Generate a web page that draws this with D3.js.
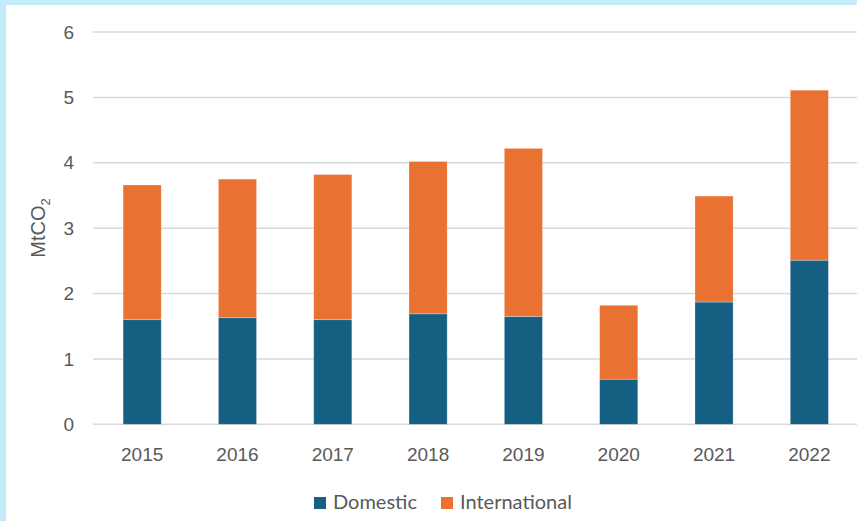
<html>
  <head>
    <style>
      body { margin: 0; background: #c4ebfa; }
      svg { display: block; }
      .tick text { fill: #595959; font-family: "Liberation Sans", Arial, sans-serif; }
    </style>
  </head>
  <body>
    <script src="https://d3js.org/d3.v7.min.js"></script>
    <script>
    var width = 857, height = 521;

    // values (MtCO2)
    var years = ["2015", "2016", "2017", "2018", "2019", "2020", "2021", "2022"];
    var domestic = [1.60, 1.63, 1.60, 1.69, 1.65, 0.69, 1.87, 2.51];
    var international = [2.06, 2.12, 2.22, 2.33, 2.57, 1.13, 1.62, 2.60];
    var yTicks = [0, 1, 2, 3, 4, 5, 6];
    var seriesNames = ["Domestic", "International"];
    var colors = ["#156082", "#e97132"];

    var rows = years.map(function(y, i) {
      return { year: y, Domestic: domestic[i], International: international[i] };
    });

    var svg = d3.select("body").append("svg")
        .attr("width", width)
        .attr("height", height);

    // white chart area inside the blue frame
    svg.append("rect")
        .attr("x", 6).attr("y", 5)
        .attr("width", width - 6).attr("height", height - 5)
        .attr("fill", "#fff");

    var x = d3.scaleBand()
        .domain(years)
        .range([94.5, 857])
        .paddingInner(0.6)
        .paddingOuter(0.3);

    var y = d3.scaleLinear()
        .domain([0, 6])
        .range([424.3, 32]);

    // gridlines
    svg.append("g")
      .selectAll("line")
      .data(yTicks)
      .enter().append("line")
        .attr("x1", 93).attr("x2", width)
        .attr("y1", function(d) { return y(d); })
        .attr("y2", function(d) { return y(d); })
        .attr("stroke", "#d9d9d9")
        .attr("stroke-width", 1.5);

    // y axis labels
    var yAxis = svg.append("g")
        .attr("transform", "translate(74,0)")
        .call(d3.axisLeft(y).tickValues(yTicks).tickFormat(d3.format("d")).tickSize(0).tickPadding(0));
    yAxis.select(".domain").remove();
    yAxis.selectAll("text").style("font-size", "19px");

    // x axis labels
    var xAxis = svg.append("g")
        .attr("transform", "translate(0,447)")
        .call(d3.axisBottom(x).tickSize(0).tickPadding(0));
    xAxis.select(".domain").remove();
    xAxis.selectAll("text").style("font-size", "19px");

    // stacked bars
    var stack = d3.stack().keys(seriesNames)(rows);

    svg.append("g")
      .selectAll("g")
      .data(stack)
      .enter().append("g")
        .attr("fill", function(d, i) { return colors[i]; })
      .selectAll("rect")
      .data(function(d) { return d; })
      .enter().append("rect")
        .attr("x", function(d) { return x(d.data.year); })
        .attr("y", function(d) { return y(d[1]); })
        .attr("width", x.bandwidth())
        .attr("height", function(d) { return y(d[0]) - y(d[1]); })
        .attr("stroke", "#ffffff")
        .attr("stroke-opacity", 0.35)
        .attr("stroke-width", 0.75);

    // y axis title with subscript
    var title = svg.append("text")
        .attr("transform", "translate(45,228) rotate(-90)")
        .attr("text-anchor", "middle")
        .attr("fill", "#595959")
        .style("font-family", "'Liberation Sans', Arial, sans-serif")
        .style("font-size", "20px");
    title.append("tspan").text("MtCO");
    title.append("tspan").attr("dy", 5).style("font-size", "13px").text("2");

    // legend
    var legend = svg.append("g")
      .selectAll("g")
      .data(seriesNames)
      .enter().append("g")
        .attr("transform", function(d, i) { return "translate(" + [314, 441][i] + ",497)"; });

    legend.append("rect")
        .attr("width", 12).attr("height", 12)
        .attr("fill", function(d, i) { return colors[i]; });

    legend.append("text")
        .attr("x", 19).attr("y", 12)
        .attr("fill", "#595959")
        .style("font-family", "Lato, sans-serif")
        .style("font-size", "20px")
        .text(function(d) { return d; });
    </script>
  </body>
</html>
